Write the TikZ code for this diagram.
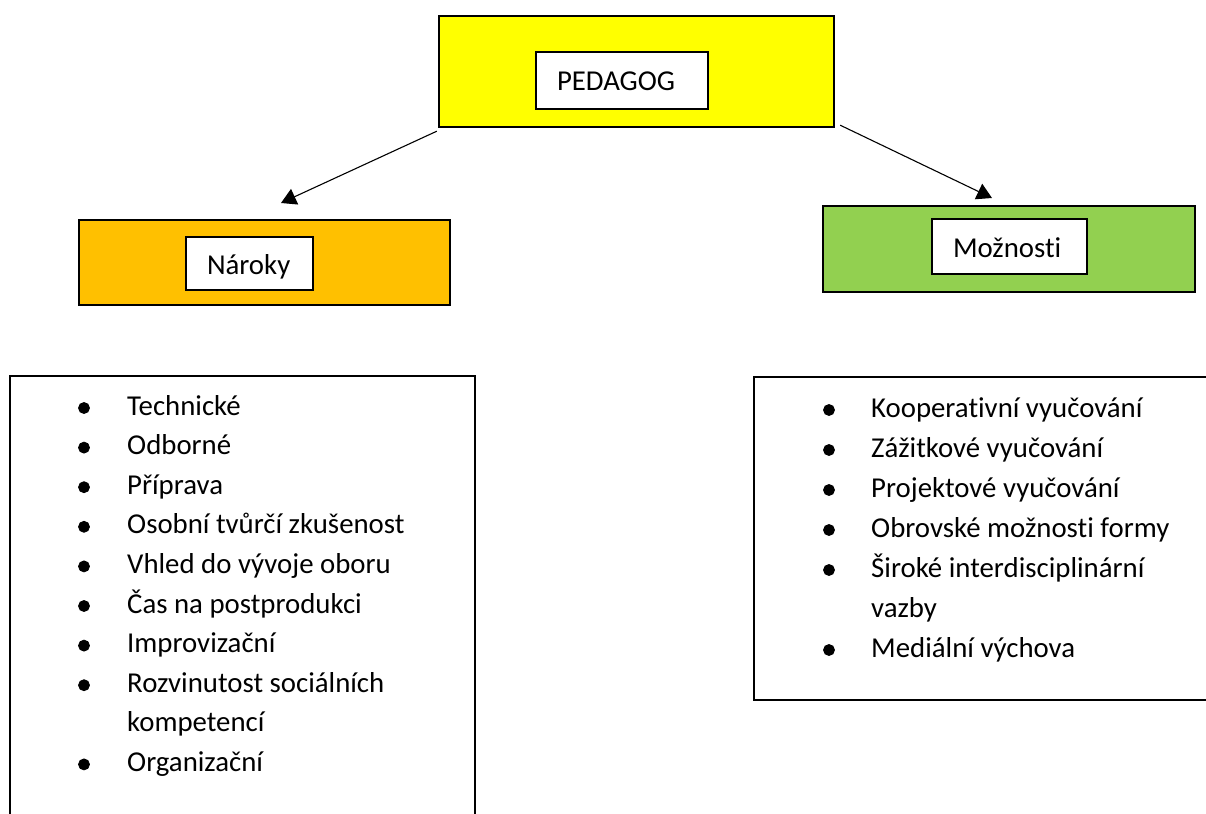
\documentclass[tikz,border=0pt]{standalone}
\usepackage{fontspec}
\setmainfont{Carlito}[Ligatures=NoCommon]
\usetikzlibrary{arrows.meta}
\definecolor{pedyellow}{HTML}{FFFF00}
\definecolor{narorange}{HTML}{FFC000}
\definecolor{mozgreen}{HTML}{92D050}
\begin{document}
\begin{tikzpicture}[x=1pt,y=-1pt,
  font=\fontsize{28.8pt}{34pt}\selectfont,
  outerbox/.style={draw, line width=2.4pt, inner sep=0pt},
  labelbox/.style={draw, fill=white, line width=1.8pt, inner xsep=21pt,
    inner ysep=0pt, align=left, text height=21pt, text depth=0pt},
  listbox/.style={draw, line width=1.6pt, inner sep=0pt, anchor=north west},
  itemtext/.style={anchor=base west, inner sep=0pt},
  bulletdot/.style={circle, fill=black, draw=black, line width=0.8pt, inner sep=0pt, minimum size=11pt},
  arr/.style={line width=1.1pt, -{Triangle[length=15pt,width=17pt]}}]
\useasboundingbox (0,0) rectangle (1206,813);
\clip (0,0) rectangle (1206,813);

% top level
\node[outerbox, fill=pedyellow, minimum width=395pt, minimum height=111pt] (ped) at (636.5,71.5) {};
\node[labelbox, minimum width=172pt, minimum height=57pt, text width=130pt] (pedlbl) at (622,80.5) {PEDAGOG};

% requirements branch
\node[outerbox, fill=narorange, minimum width=371pt, minimum height=85pt] (nar) at (264.5,262.5) {};
\node[labelbox, minimum width=127pt, minimum height=53pt, text width=85pt] (narlbl) at (249.5,263.5) {Nároky};

% possibilities branch
\node[outerbox, fill=mozgreen, minimum width=372pt, minimum height=86pt] (moz) at (1009,249) {};
\node[labelbox, minimum width=155pt, minimum height=55pt, text width=113pt] (mozlbl) at (1009.5,246.5) {Možnosti};

% arrow ends
\coordinate (tipL) at (281,203);
\coordinate (tipR) at (992,198);
\draw[arr] ([shift={(-1,3)}]ped.south west) -- (tipL);
\draw[arr] ([shift={(5,-3)}]ped.south east) -- (tipR);

% lists
\node[listbox, minimum width=465pt, minimum height=480pt] (narlist) at (9,375) {};
\node[listbox, minimum width=480pt, minimum height=323pt] (mozlist) at (753,376) {};

\foreach \t/\b [count=\i from 0] in {Technické/1, Odborné/1, Příprava/1,
    Osobní tvůrčí zkušenost/1, Vhled do vývoje oboru/1, Čas na postprodukci/1,
    Improvizační/1, Rozvinutost sociálních/1, kompetencí/0, Organizační/1} {
  \node[itemtext] (nari\i) at (127, 415+39.6*\i) {\t};
  \ifnum\b=1 \node[bulletdot] (narb\i) at (84, 408+39.6*\i) {}; \fi
}

\foreach \t/\b [count=\i from 0] in {Kooperativní vyučování/1, Zážitkové vyučování/1,
    Projektové vyučování/1, Obrovské možnosti formy/1, Široké interdisciplinární/1,
    vazby/0, Mediální výchova/1} {
  \node[itemtext] (mozi\i) at (871, 417+40*\i) {\t};
  \ifnum\b=1 \node[bulletdot] (mozb\i) at (829, 410+40*\i) {}; \fi
}
\end{tikzpicture}
\end{document}
